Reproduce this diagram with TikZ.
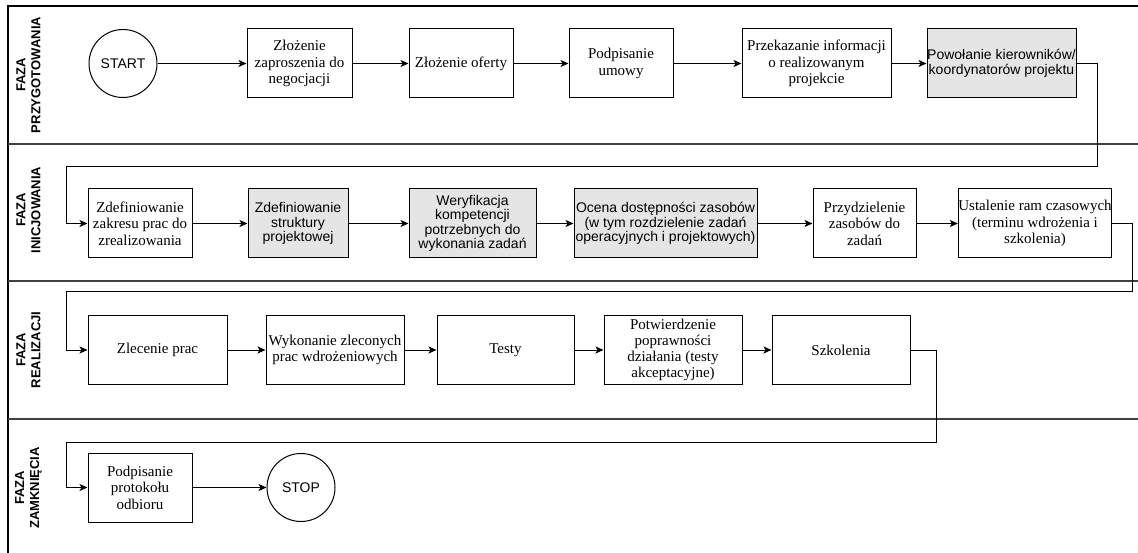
\documentclass[tikz,border=0pt]{standalone}
\usepackage{fontspec}
\setmainfont{Liberation Serif}
\setsansfont{Liberation Sans}
\usetikzlibrary{arrows.meta}
\begin{document}
\begin{tikzpicture}[x=1pt,y=-1pt,
  serifbox/.style={draw, line width=1pt, fill=white, minimum height=69pt, align=center, inner sep=0pt, font=\fontsize{15}{16.5}\selectfont},
  sansbox/.style={serifbox, fill=gray!20, font=\sffamily\fontsize{14}{14.5}\selectfont},
  terminal/.style={draw, circle, line width=1pt, fill=white, minimum size=68pt, inner sep=0pt, font=\sffamily\fontsize{14}{16}\selectfont},
  flow/.style={line width=1pt, -{Stealth[length=8pt,width=7pt,inset=2pt]}},
  lane/.style={line width=1.2pt, draw=black!75},
  border/.style={line width=1.2pt, draw=black},
  lanelabel/.style={rotate=90, align=center, inner sep=0pt, font=\sffamily\bfseries\fontsize{13}{15}\selectfont}
]
\useasboundingbox (0,0) rectangle (1138,553);
\fill[white] (0,0) rectangle (1138,553);

% pool borders and lane separators
\draw[border] (1138,6) -- (8,6) -- (8,553);
\draw[lane] (8,144) -- (1138,144);
\draw[lane] (8,281) -- (1138,281);
\draw[lane] (8,419) -- (1138,419);

% lane labels
\node[lanelabel] (l1) at (28.5,75) {FAZA\\PRZYGOTOWANIA};
\node[lanelabel] (l2) at (28.5,210) {FAZA\\INICJOWANIA};
\node[lanelabel] (l3) at (28.5,350) {FAZA\\REALIZACJI};
\node[lanelabel] (l4) at (28.5,488) {FAZA\\ZAMKNIĘCIA};

% lane 1
\node[terminal] (start) at (123,63.5) {START};
\node[serifbox, minimum width=105pt] (b1) at (299.5,63.5) {Złożenie\\zaproszenia do\\negocjacji};
\node[serifbox, minimum width=104pt] (b2) at (461,63.5) {Złożenie oferty};
\node[serifbox, minimum width=104pt] (b3) at (621,63.5) {Podpisanie\\umowy};
\node[serifbox, minimum width=149pt] (b4) at (816.5,63.5) {Przekazanie informacji\\o realizowanym\\projekcie};
\node[sansbox, minimum width=149pt] (b5) at (1001.5,63.5) {Powołanie kierowników/\\koordynatorów projektu};

% lane 2
\node[serifbox, minimum width=104pt] (c1) at (140,223.5) {Zdefiniowanie\\zakresu prac do\\zrealizowania};
\node[sansbox, minimum width=100pt] (c2) at (298,223.5) {Zdefiniowanie\\struktury\\projektowej};
\node[sansbox, minimum width=127pt] (c3) at (472.5,223.5) {Weryfikacja\\kompetencji\\potrzebnych do\\wykonania zadań};
\node[sansbox, minimum width=183pt] (c4) at (665.5,223.5) {Ocena dostępności zasobów\\(w tym rozdzielenie zadań\\operacyjnych i projektowych)};
\node[serifbox, minimum width=103pt] (c5) at (864.5,223.5) {Przydzielenie\\zasobów do\\zadań};
\node[serifbox, minimum width=152pt] (c6) at (1035,223.5) {Ustalenie ram czasowych\\(terminu wdrożenia i\\szkolenia)};

% lane 3
\node[serifbox, minimum width=139pt, minimum height=68pt] (d1) at (157.5,350) {Zlecenie prac};
\node[serifbox, minimum width=138pt, minimum height=68pt] (d2) at (335,350) {Wykonanie zleconych\\prac wdrożeniowych};
\node[serifbox, minimum width=137pt, minimum height=68pt] (d3) at (505.5,350) {Testy};
\node[serifbox, minimum width=138pt, minimum height=68pt, font=\fontsize{15}{16}\selectfont] (d4) at (673,350) {Potwierdzenie\\poprawności\\działania (testy\\akceptacyjne)};
\node[serifbox, minimum width=138pt, minimum height=68pt] (d5) at (841,350) {Szkolenia};

% lane 4
\node[serifbox, minimum width=104pt] (e1) at (140,487.5) {Podpisanie\\protokołu\\odbioru};
\node[terminal] (stop) at (301,487.5) {STOP};

% connectors
\draw[flow] (start) -- (b1);
\draw[flow] (b1) -- (b2);
\draw[flow] (b2) -- (b3);
\draw[flow] (b3) -- (b4);
\draw[flow] (b4) -- (b5);
\draw[flow] (b5.east) -- ++(21,0) |- (66,167) |- (c1.west);

\draw[flow] (c1) -- (c2);
\draw[flow] (c2) -- (c3);
\draw[flow] (c3) -- (c4);
\draw[flow] (c4) -- (c5);
\draw[flow] (c5) -- (c6);
\draw[flow] (c6.east) -- ++(20,0) |- (66,292) |- (d1.west);

\draw[flow] (d1) -- (d2);
\draw[flow] (d2) -- (d3);
\draw[flow] (d3) -- (d4);
\draw[flow] (d4) -- (d5);
\draw[flow] (d5.east) -- ++(26,0) |- (66,442) |- (e1.west);

\draw[flow] (e1) -- (stop);
\end{tikzpicture}
\end{document}
